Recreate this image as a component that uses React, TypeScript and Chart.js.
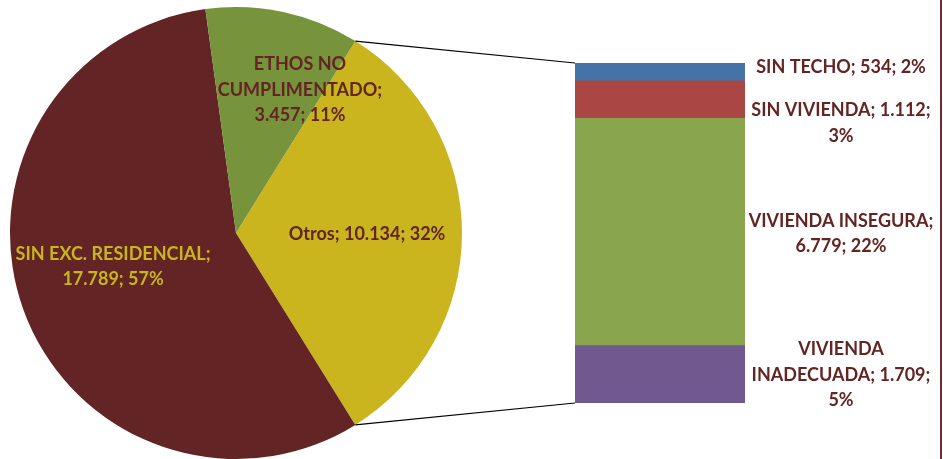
import React, { useEffect, useRef } from 'react';
import { Chart, registerables } from 'chart.js';

Chart.register(...registerables);

// ---- data ----
const pieLabels = ['Otros', 'SIN EXC. RESIDENCIAL', 'ETHOS NO CUMPLIMENTADO'];
const pieValues = [10134, 17789, 3457];
const piePercents = [32, 57, 11];
const pieColors = ['#CAB51E', '#622424', '#77933C'];
const pieLabelColors = ['#632523', '#CAB51E', '#632523'];
const pieLineWords = [[3], [3, 2], [2, 1, 2]];

const barLabels = ['VIVIENDA INADECUADA', 'VIVIENDA INSEGURA', 'SIN VIVIENDA', 'SIN TECHO'];
const barValues = [1709, 6779, 1112, 534];
const barPercents = [5, 22, 3, 2];
const barColors = ['#71588F', '#89A54E', '#AA4643', '#4572A7'];
const barLineWords = [[1, 2, 1], [2, 2], [3, 1], [4]];

// ---- style ----
const FONT = 'bold 18px Lato, "Liberation Sans", sans-serif';
const LINE_H = 25.5;
const CAP_HALF = 6.5;
const TEXT_COLOR = '#632523';
const pieLabelOffsets = [[0.58, 0], [-0.544, 0.146], [0.283, -0.637]];
const barLabelNudge = [0, 1, 23, -5];

const fmt = (n: number) => String(n).replace(/\B(?=(\d{3})+(?!\d))/g, '.');

function buildLines(label: string, value: number, pct: number, groups: number[]): string[] {
  const words = `${label}; ${fmt(value)}; ${pct}%`.split(' ');
  const out: string[] = [];
  let i = 0;
  for (const g of groups) {
    out.push(words.slice(i, i + g).join(' '));
    i += g;
  }
  if (i < words.length) out[out.length - 1] += ' ' + words.slice(i).join(' ');
  return out;
}

function drawLines(ctx: CanvasRenderingContext2D, lines: string[], cx: number, cy: number, color: string) {
  ctx.save();
  ctx.font = FONT;
  ctx.fillStyle = color;
  ctx.textAlign = 'center';
  ctx.textBaseline = 'alphabetic';
  const top = cy - ((lines.length - 1) * LINE_H) / 2;
  lines.forEach((l, k) => ctx.fillText(l, cx, top + k * LINE_H + CAP_HALF));
  ctx.restore();
}

export default function App() {
  const pieRef = useRef<HTMLCanvasElement>(null);
  const barRef = useRef<HTMLCanvasElement>(null);

  useEffect(() => {
    document.body.style.margin = '0';
    const total = pieValues.reduce((a, b) => a + b, 0);
    const rotation = 90 - (pieValues[0] / total) * 180;

    const pie = new Chart(pieRef.current!, {
      type: 'pie',
      data: {
        labels: pieLabels,
        datasets: [{ data: pieValues, backgroundColor: pieColors, borderWidth: 0 }],
      },
      options: {
        responsive: false,
        animation: false,
        rotation,
        layout: { padding: { left: 10, right: 481, top: 7, bottom: 0 } },
        plugins: { legend: { display: false }, tooltip: { enabled: false } },
      },
      plugins: [
        {
          id: 'pieLabels',
          afterDatasetsDraw(chart) {
            const ctx = chart.ctx;
            const arc: any = chart.getDatasetMeta(0).data[0];
            const r = arc.outerRadius;
            pieLabels.forEach((lab, i) => {
              const lines = buildLines(lab, pieValues[i], piePercents[i], pieLineWords[i]);
              const [fx, fy] = pieLabelOffsets[i];
              drawLines(ctx, lines, arc.x + fx * r, arc.y + fy * r, pieLabelColors[i]);
            });
          },
        },
      ],
    });

    const barTotal = barValues.reduce((a, b) => a + b, 0);
    const bar = new Chart(barRef.current!, {
      type: 'bar',
      data: {
        labels: ['Otros'],
        datasets: barLabels.map((lab, i) => ({
          label: lab,
          data: [barValues[i]],
          backgroundColor: barColors[i],
          borderWidth: 0,
          barPercentage: 1,
          categoryPercentage: 1,
        })),
      },
      options: {
        responsive: false,
        animation: false,
        layout: { padding: { left: 575, right: 198, top: 63, bottom: 56 } },
        scales: {
          x: { stacked: true, display: false },
          y: { stacked: true, display: false, min: 0, max: barTotal },
        },
        plugins: { legend: { display: false }, tooltip: { enabled: false } },
      },
      plugins: [
        {
          id: 'barExtras',
          afterDraw(chart) {
            const ctx = chart.ctx;
            // labels
            barLabels.forEach((lab, i) => {
              const el: any = chart.getDatasetMeta(i).data[0];
              const cy = (el.y + el.base) / 2 + barLabelNudge[i];
              const cx = el.x + el.width / 2 + 96;
              drawLines(ctx, buildLines(lab, barValues[i], barPercents[i], barLineWords[i]), cx, cy, TEXT_COLOR);
            });
            // connectors
            const arc: any = pie.getDatasetMeta(0).data[0];
            const topEl: any = chart.getDatasetMeta(barLabels.length - 1).data[0];
            const botEl: any = chart.getDatasetMeta(0).data[0];
            const left = topEl.x - topEl.width / 2;
            const r = arc.outerRadius;
            ctx.save();
            ctx.strokeStyle = '#000000';
            ctx.lineWidth = 1.2;
            ctx.beginPath();
            ctx.moveTo(arc.x + r * Math.cos(arc.startAngle), arc.y + r * Math.sin(arc.startAngle));
            ctx.lineTo(left, topEl.y);
            ctx.moveTo(arc.x + r * Math.cos(arc.endAngle), arc.y + r * Math.sin(arc.endAngle));
            ctx.lineTo(left, botEl.base);
            ctx.stroke();
            // chart border on the right
            ctx.strokeStyle = '#6E2C2A';
            ctx.lineWidth = 2;
            ctx.beginPath();
            ctx.moveTo(941, 0);
            ctx.lineTo(941, chart.height);
            ctx.stroke();
            ctx.restore();
          },
        },
      ],
    });

    return () => {
      bar.destroy();
      pie.destroy();
    };
  }, []);

  const cs: React.CSSProperties = { position: 'absolute', left: 0, top: 0, width: 943, height: 459 };
  return (
    <div style={{ position: 'relative', width: 943, height: 459, background: '#ffffff' }}>
      <canvas ref={pieRef} width={943} height={459} style={cs} />
      <canvas ref={barRef} width={943} height={459} style={cs} />
    </div>
  );
}
